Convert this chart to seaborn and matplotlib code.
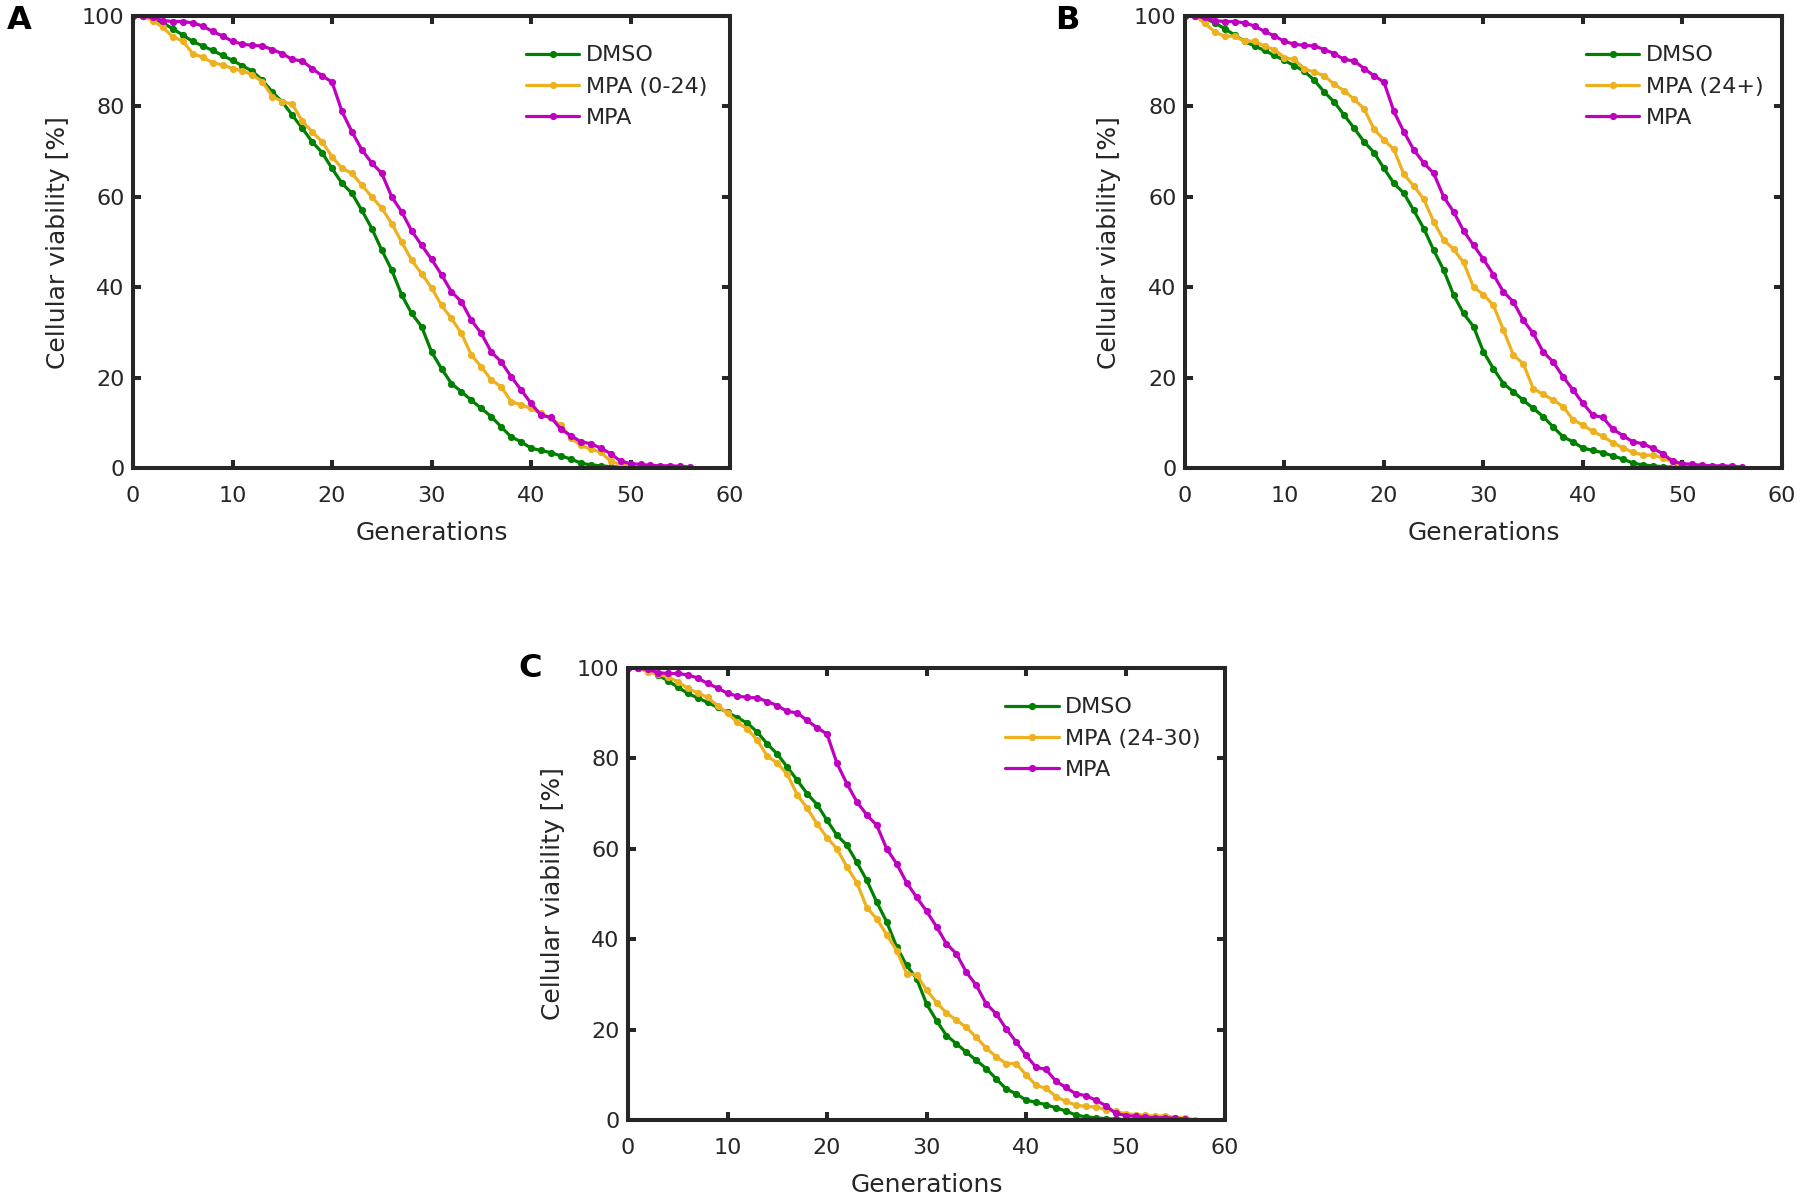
import numpy as np
import pandas as pd
import matplotlib.pyplot as plt
import seaborn as sns

# viability (%) per generation (generation = list index)
dmso = [100, 100, 99.5, 98.5, 97.2, 95.8, 94.4, 93.4, 92.4, 91.3,
        90.2, 89.0, 87.8, 85.8, 83.2, 81.0, 78.1, 75.2, 72.2, 69.8,
        66.3, 63.0, 60.8, 57.0, 53.0, 48.2, 43.8, 38.3, 34.2, 31.3,
        25.7, 22.0, 18.7, 16.9, 15.0, 13.2, 11.4, 9.1, 6.9, 5.8,
        4.4, 3.9, 3.4, 2.7, 2.0, 1.1, 0.7, 0.5, 0.3, 0.2,
        0.1, 0.05, 0.0, 0.0]

mpa = [100, 100, 99.7, 99.0, 98.8, 98.8, 98.5, 97.8, 96.6, 95.6,
       94.4, 93.8, 93.5, 93.4, 92.6, 91.7, 90.4, 90.1, 88.4, 86.8,
       85.4, 78.9, 74.4, 70.4, 67.5, 65.2, 60.0, 56.7, 52.5, 49.3,
       46.2, 42.8, 39.0, 36.8, 32.7, 29.8, 25.7, 23.5, 20.2, 17.3,
       14.3, 11.7, 11.2, 8.6, 7.2, 5.8, 5.4, 4.4, 3.2, 1.5,
       1.0, 0.8, 0.6, 0.5, 0.5, 0.4, 0.2]

mpa_0_24 = [100, 100, 99.0, 97.5, 95.4, 94.5, 91.7, 90.9, 89.7, 89.2,
            88.4, 87.9, 87.0, 85.5, 82.2, 81.1, 80.5, 76.8, 74.4, 72.2,
            68.9, 66.3, 65.2, 62.6, 60.0, 57.5, 54.1, 50.0, 46.0, 43.0,
            39.9, 36.0, 33.1, 29.8, 25.0, 22.4, 19.5, 18.0, 14.7, 14.0,
            13.2, 12.1, 11.0, 9.5, 6.6, 5.0, 4.2, 3.5, 1.5, 0.8,
            0.4, 0.0]

mpa_24_plus = [100, 100, 98.4, 96.5, 95.5, 95.6, 94.4, 94.5, 93.3, 92.6,
               90.8, 90.4, 88.3, 87.6, 86.8, 84.9, 83.5, 81.6, 79.5, 75.0,
               72.6, 70.5, 65.0, 62.4, 59.5, 54.5, 50.5, 48.4, 45.5, 40.0,
               38.4, 36.0, 30.6, 25.0, 23.1, 17.6, 16.3, 15.1, 13.6, 10.7,
               9.5, 8.1, 7.0, 5.6, 4.5, 3.5, 2.9, 2.8, 2.3, 1.3,
               0.5, 0.2, 0.0]

mpa_24_30 = [100, 100, 99.2, 98.7, 98.0, 97.0, 95.5, 94.5, 93.5, 91.7,
             90.0, 88.0, 86.5, 84.0, 80.5, 79.0, 76.5, 72.0, 69.0, 65.5,
             62.5, 60.0, 56.0, 52.5, 47.0, 44.5, 41.0, 37.5, 32.4, 32.1,
             28.8, 26.0, 23.7, 22.1, 20.5, 18.3, 15.9, 14.0, 12.5, 12.5,
             10.0, 7.7, 7.0, 5.2, 4.1, 3.3, 3.0, 2.9, 2.3, 1.9,
             1.4, 1.2, 1.1, 0.8, 1.0, 0.5, 0.5, 0.0]

panels = [
    ("A", "MPA (0-24)", mpa_0_24, [0.0739, 0.6106, 0.3317, 0.376], (0.658, 0.935)),
    ("B", "MPA (24+)", mpa_24_plus, [0.6583, 0.6106, 0.3317, 0.376], (0.672, 0.935)),
    ("C", "MPA (24-30)", mpa_24_30, [0.3489, 0.0682, 0.3317, 0.376], (0.632, 0.935)),
]
letter_pos = {"A": (0.004, 0.983), "B": (0.586, 0.983), "C": (0.288, 0.444)}

GREEN = "#008000"
ORANGE = "#EDB120"
MAGENTA = "#C000C0"
DARK = "#262626"

sns.set_theme(style="white")
plt.rcParams["font.family"] = ["DejaVu Sans"]

fig = plt.figure(figsize=(18, 12.02), dpi=100)

for letter, treat_name, treat, rect, leg_anchor in panels:
    ax = fig.add_axes(rect)
    frames = []
    for name, vals in [("DMSO", dmso), (treat_name, treat), ("MPA", mpa)]:
        frames.append(pd.DataFrame({"gen": np.arange(len(vals)), "viab": vals, "cond": name}))
    df = pd.concat(frames, ignore_index=True)

    sns.lineplot(data=df, x="gen", y="viab", hue="cond",
                 hue_order=["DMSO", treat_name, "MPA"],
                 palette=[GREEN, ORANGE, MAGENTA],
                 marker="o", markersize=5.2, markeredgewidth=0,
                 linewidth=2.3, errorbar=None, legend=False, ax=ax)

    ax.set_xlim(0, 60)
    ax.set_ylim(0, 100)
    ax.set_xticks(range(0, 61, 10))
    ax.set_yticks(range(0, 101, 20))
    ax.set_xlabel("Generations", fontsize=18, color=DARK, labelpad=11)
    ax.set_ylabel("Cellular viability [%]", fontsize=18, color=DARK, labelpad=9)

    for sp in ax.spines.values():
        sp.set_visible(True)
        sp.set_linewidth(2.9)
        sp.set_color(DARK)
    ax.tick_params(axis="both", direction="in", length=6, width=2.9, color=DARK,
                   labelsize=16, labelcolor=DARK, top=True, right=True,
                   bottom=True, left=True)
    ax.tick_params(axis="x", pad=13)
    ax.tick_params(axis="y", pad=6)

    leg = ax.legend(handles=ax.lines[:3], labels=["DMSO", treat_name, "MPA"],
                    loc="upper left", bbox_to_anchor=leg_anchor, frameon=False,
                    fontsize=16, handlelength=2.4, handletextpad=0.3,
                    labelspacing=0.5, borderpad=0, borderaxespad=0)
    for t in leg.get_texts():
        t.set_color(DARK)

    fig.text(letter_pos[letter][0], letter_pos[letter][1], letter,
             fontsize=23, fontweight="bold", color="black", ha="left", va="center")

fig.savefig("out.png", dpi=100)
